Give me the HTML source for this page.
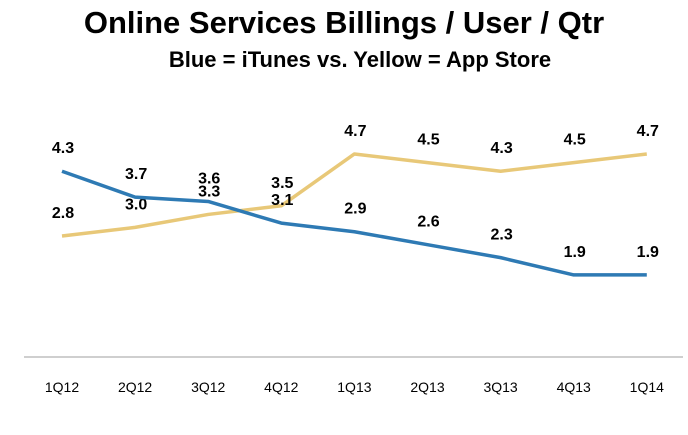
<!DOCTYPE html>
<html><head><meta charset="utf-8"><style>
body{margin:0;background:#fff;}
svg text{font-family:"Liberation Sans",Arial,sans-serif;font-weight:bold;}
</style></head><body>
<svg width="688" height="430" viewBox="0 0 688 430">
<text x="344" y="33" text-anchor="middle" font-size="31">Online Services Billings / User / Qtr</text>
<text x="360" y="67" text-anchor="middle" font-size="22">Blue = iTunes vs. Yellow = App Store</text>
<line x1="24" y1="357" x2="683" y2="357" stroke="#bfbfbf" stroke-width="1.5"/>
<g id="plot"></g>
</svg>
<script>
const categories=["1Q12","2Q12","3Q12","4Q12","1Q13","2Q13","3Q13","4Q13","1Q14"];
const itunes=[4.3,3.7,3.6,3.1,2.9,2.6,2.3,1.9,1.9];
const appstore=[2.8,3.0,3.3,3.5,4.7,4.5,4.3,4.5,4.7];
const NS="http://www.w3.org/2000/svg";
const g=document.getElementById('plot');
const xs=i=>62+i*73.1;
const ys=v=>357-v*43.2;
function mk(t,a){const e=document.createElementNS(NS,t);for(const k in a)e.setAttribute(k,a[k]);g.appendChild(e);return e;}
categories.forEach((c,i)=>{const t=mk('text',{x:xs(i),y:392,'text-anchor':'middle','font-size':'14'});


t.style.fontWeight='normal';t.textContent=c;});
function series(d,col,name){
 const p=mk('polyline',{points:d.map((v,i)=>xs(i)+','+ys(v)).join(' '),fill:'none',stroke:col,'stroke-width':'3.5','stroke-linejoin':'round'});
 
 
 d.forEach((v,i)=>{const t=mk('text',{x:xs(i)+1,y:ys(v)-18,'text-anchor':'middle','font-size':'16'});
 
 
 t.textContent=v.toFixed(1);});
}
series(appstore,'#e8c878','app-store');
series(itunes,'#2e7ab4','itunes');
</script>
</body></html>
